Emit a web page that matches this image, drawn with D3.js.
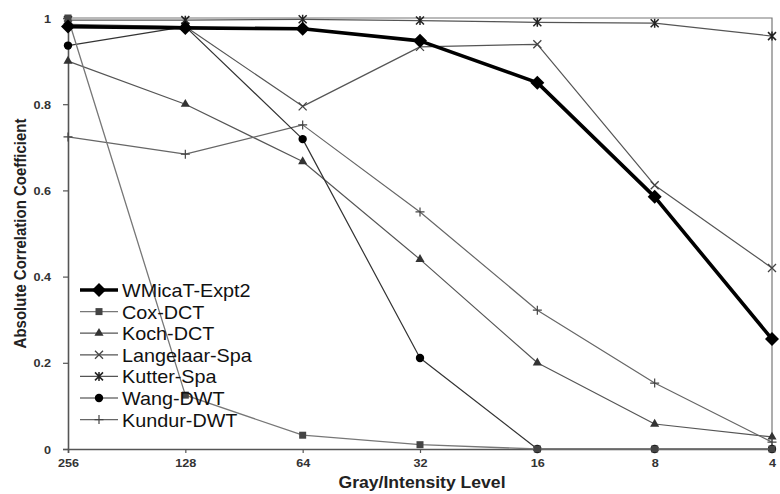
<!DOCTYPE html>
<html>
<head>
<meta charset="utf-8">
<script src="https://cdn.jsdelivr.net/npm/d3@7/dist/d3.min.js"></script>
<style>
  html, body { margin: 0; padding: 0; background: #fff; }
  svg { display: block; }
  text { font-family: Arial, "Liberation Sans", sans-serif; }
</style>
</head>
<body>
<svg id="chart" width="780" height="494"></svg>
<script>
// Gray levels along the x axis (left to right)
const levels = ["256", "128", "64", "32", "16", "8", "4"];
const yTicks = [0, 0.2, 0.4, 0.6, 0.8, 1];

// Absolute correlation coefficient for each method
const wmicat    = [0.98, 0.977, 0.975, 0.947, 0.85, 0.585, 0.255];
const coxDct    = [1.0, 0.125, 0.032, 0.01, 0.0, 0.0, 0.0];
const kochDct   = [0.90, 0.80, 0.667, 0.44, 0.20, 0.058, 0.028];
const langelaar = [0.985, 0.98, 0.795, 0.933, 0.939, 0.612, 0.42];
const kutter    = [0.995, 0.995, 0.997, 0.994, 0.99, 0.988, 0.958];
const wangDwt   = [0.936, 0.98, 0.719, 0.211, 0.0, 0.0, 0.0];
const kundurDwt = [0.724, 0.684, 0.752, 0.55, 0.322, 0.153, 0.016];

const seriesNames = ["WMicaT-Expt2", "Cox-DCT", "Koch-DCT", "Langelaar-Spa", "Kutter-Spa", "Wang-DWT", "Kundur-DWT"];
const seriesValues = [wmicat, coxDct, kochDct, langelaar, kutter, wangDwt, kundurDwt];
const seriesMarkers = ["diamond", "square", "triangle", "cross", "asterisk", "circle", "plus"];

const svg = d3.select("#chart");
const plot = { left: 68, right: 772, top: 18, bottom: 449 };
const stretch = 1.1;

const x = d3.scalePoint().domain(levels).range([plot.left, plot.right]);
const y = d3.scaleLinear().domain([0, 1]).range([plot.bottom, plot.top]);

// Plot frame (top and right edges)
svg.append("path")
  .attr("d", `M${plot.left},${plot.top}H${plot.right}V${plot.bottom}`)
  .attr("fill", "none").attr("stroke", "#777").attr("stroke-width", 1.2);

// Axes
const yAxis = svg.append("g")
  .attr("transform", `translate(${plot.left},0)`)
  .call(d3.axisLeft(y).tickValues(yTicks).tickSize(5).tickFormat(d3.format("~g")));
const xAxis = svg.append("g")
  .attr("transform", `translate(0,${plot.bottom})`)
  .call(d3.axisBottom(x).tickSize(4));
[yAxis, xAxis].forEach(g => {
  g.select(".domain").attr("stroke", "#555").attr("stroke-width", 1.6);
  g.selectAll(".tick line").attr("stroke", "#555").attr("stroke-width", 1.2);
  g.selectAll(".tick text")
    .attr("font-size", 11.5).attr("font-weight", "bold").attr("fill", "#333")
    .attr("font-family", "Arial, 'Liberation Sans', sans-serif")
    .attr("transform", `scale(${stretch},1)`);
});
// right edge of the y labels sits about 18px left of the axis after stretching
yAxis.selectAll(".tick text").attr("x", -17 / stretch).attr("dy", "0.35em");
xAxis.selectAll(".tick text").attr("y", 10).attr("dy", "0.71em");

// Axis titles
svg.append("text")
  .attr("transform", `translate(${(plot.left + plot.right) / 2 + 2},488) scale(${stretch},1)`)
  .attr("text-anchor", "middle").attr("font-size", 16).attr("font-weight", "bold").attr("fill", "#222")
  .text("Gray/Intensity Level");
svg.append("text")
  .attr("transform", `translate(26,${(plot.top + plot.bottom) / 2}) rotate(-90) scale(1,${stretch})`)
  .attr("text-anchor", "middle").attr("font-size", 15).attr("font-weight", "bold").attr("fill", "#222")
  .text("Absolute Correlation Coefficient");

// Marker drawing
function drawMarker(g, type, cx, cy, color) {
  const m = g.append("g").attr("transform", `translate(${cx},${cy})`);
  switch (type) {
    case "diamond":
      m.append("path").attr("d", "M0,-7L7,0L0,7L-7,0Z").attr("fill", color); break;
    case "square":
      m.append("rect").attr("x", -3.5).attr("y", -3.5).attr("width", 7).attr("height", 7).attr("fill", color); break;
    case "triangle":
      m.append("path").attr("d", d3.symbol(d3.symbolTriangle, 36)()).attr("fill", color); break;
    case "circle":
      m.append("circle").attr("r", 4.2).attr("fill", color); break;
    case "cross":
      m.append("path").attr("d", "M-4,-4L4,4M-4,4L4,-4").attr("stroke", color).attr("stroke-width", 1.3); break;
    case "asterisk":
      m.append("path").attr("d", "M-4,-4L4,4M-4,4L4,-4M0,-4.5V4.5").attr("stroke", color).attr("stroke-width", 1.5); break;
    case "plus":
      m.append("path").attr("d", "M0,-4.5V4.5M-4.5,0H4.5").attr("stroke", color).attr("stroke-width", 1.2); break;
  }
}

const styles = [
  { stroke: "#000", width: 3.6, marker: "#000" },
  { stroke: "#777", width: 1.3, marker: "#444" },
  { stroke: "#555", width: 1.2, marker: "#333" },
  { stroke: "#555", width: 1.2, marker: "#444" },
  { stroke: "#555", width: 1.2, marker: "#222" },
  { stroke: "#333", width: 1.2, marker: "#000" },
  { stroke: "#666", width: 1.2, marker: "#444" }
];

const line = d3.line().x((d, i) => x(levels[i])).y(d => y(d));
const seriesLayer = svg.append("g");
// draw thin series first, thick series on top
const drawOrder = [2, 3, 4, 6, 5, 1, 0];
drawOrder.forEach(k => {
  const g = seriesLayer.append("g");
  g.append("path").datum(seriesValues[k]).attr("d", line)
    .attr("fill", "none").attr("stroke", styles[k].stroke).attr("stroke-width", styles[k].width)
    .attr("stroke-linejoin", "round");
  seriesValues[k].forEach((v, i) => drawMarker(g, seriesMarkers[k], x(levels[i]), y(v), styles[k].marker));
});

// Legend
const legend = svg.append("g");
seriesNames.forEach((name, k) => {
  const cy = 290 + k * 21.6;
  const row = legend.append("g");
  row.append("line").attr("x1", 80).attr("x2", 118).attr("y1", cy).attr("y2", cy)
    .attr("stroke", styles[k].stroke).attr("stroke-width", styles[k].width);
  drawMarker(row, seriesMarkers[k], 99, cy, styles[k].marker);
  row.append("text")
    .attr("transform", `translate(122,${cy + 7}) scale(${stretch},1)`)
    .attr("font-size", 18).attr("fill", "#111").text(name);
});
</script>
</body>
</html>
